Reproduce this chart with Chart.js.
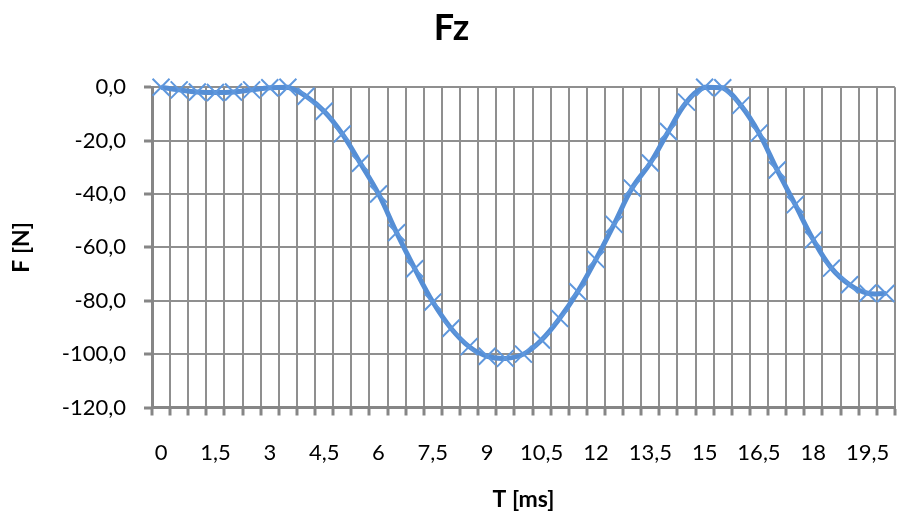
<!DOCTYPE html>
<html>
<head>
<meta charset="utf-8">
<title>Fz</title>
<script src="https://cdn.jsdelivr.net/npm/chart.js@4"></script>
<style>
  html, body { margin: 0; padding: 0; background: #ffffff; overflow: hidden; }
  #wrap { position: relative; width: 910px; height: 519px; }
</style>
</head>
<body>
<div id="wrap"><canvas id="fzChart"></canvas></div>
<script>
// Time axis categories (ms), step 0,5
const timeLabels = ['0', '0,5', '1', '1,5', '2', '2,5', '3', '3,5', '4', '4,5',
  '5', '5,5', '6', '6,5', '7', '7,5', '8', '8,5', '9', '9,5',
  '10', '10,5', '11', '11,5', '12', '12,5', '13', '13,5', '14', '14,5',
  '15', '15,5', '16', '16,5', '17', '17,5', '18', '18,5', '19', '19,5', '20'];

// Fz values in N
const fzValues = [0, -1.0, -1.8, -2.0, -1.8, -1.0, -0.2, 0, -3.4, -9.0,
  -17.5, -28.5, -40.0, -54.5, -68.0, -80.5, -90.3, -97.2, -100.8, -101.6,
  -100.0, -94.7, -86.6, -76.6, -64.5, -51.4, -37.8, -28.4, -16.6, -5.6,
  0, -0.2, -6.8, -17.2, -31.0, -44.0, -57.2, -67.8, -74.0, -77.2, -77.3];

// Only these time labels are printed under the axis
const shownTimeTicks = ['0', '1,5', '3', '4,5', '6', '7,5', '9', '10,5', '12',
  '13,5', '15', '16,5', '18', '19,5'];

const fontFamily = 'Lato, "Open Sans", sans-serif';
const gridColor = '#8f8f8f';
const axisColor = '#868686';

function initFzChart() {
  const canvas = document.getElementById('fzChart');
  if (!canvas) return;

  new Chart(canvas, {
    type: 'line',
    data: {
      labels: timeLabels,
      datasets: [{
        label: 'Fz',
        data: fzValues,
        borderColor: '#558ED5',
        borderWidth: 5,
        tension: 0.4,
        pointStyle: 'crossRot',
        pointRadius: 12,
        pointBorderWidth: 2,
        pointBorderColor: '#5E97DD',
        pointBackgroundColor: '#5E97DD',
        fill: false,
        clip: false
      }]
    },
    options: {
      responsive: true,
      maintainAspectRatio: false,
      animation: false,
      layout: {
        padding: { left: 0, right: 7, top: 0, bottom: 0 }
      },
      plugins: {
        legend: { display: false },
        tooltip: { enabled: false },
        title: {
          display: true,
          text: 'Fz',
          color: '#000000',
          font: { family: fontFamily, size: 36, weight: 'bold' },
          padding: { top: 7, bottom: 37 }
        }
      },
      scales: {
        x: {
          offset: true,
          grid: {
            offset: true,
            color: gridColor,
            lineWidth: 2,
            tickLength: 8,
            tickColor: axisColor,
            tickWidth: 3
          },
          border: { color: axisColor, width: 3 },
          ticks: {
            autoSkip: false,
            maxRotation: 0,
            padding: 24,
            color: '#000000',
            font: { family: fontFamily, size: 22 },
            callback: function(value) {
              const label = this.getLabelForValue(value);
              return shownTimeTicks.includes(label) ? label : '';
            }
          },
          title: {
            display: true,
            text: 'T [ms]',
            color: '#000000',
            font: { family: fontFamily, size: 23, weight: 'bold' },
            padding: { top: 0, bottom: 6 }
          },
          afterFit: function(scale) {
            scale.height = 111.5;
          }
        },
        y: {
          min: -120,
          max: 0,
          grid: {
            color: gridColor,
            lineWidth: 2,
            tickLength: 8,
            tickColor: axisColor,
            tickWidth: 3
          },
          border: { color: axisColor, width: 3 },
          ticks: {
            stepSize: 20,
            padding: 18,
            color: '#000000',
            font: { family: fontFamily, size: 22 },
            callback: function(value) {
              return value.toFixed(1).replace('.', ',');
            }
          },
          title: {
            display: true,
            text: 'F [N]',
            color: '#000000',
            font: { family: fontFamily, size: 23, weight: 'bold' },
            padding: { top: 8, bottom: 0 }
          },
          afterFit: function(scale) {
            scale.width = 152;
          }
        }
      }
    }
  });
}

initFzChart();
</script>
</body>
</html>
